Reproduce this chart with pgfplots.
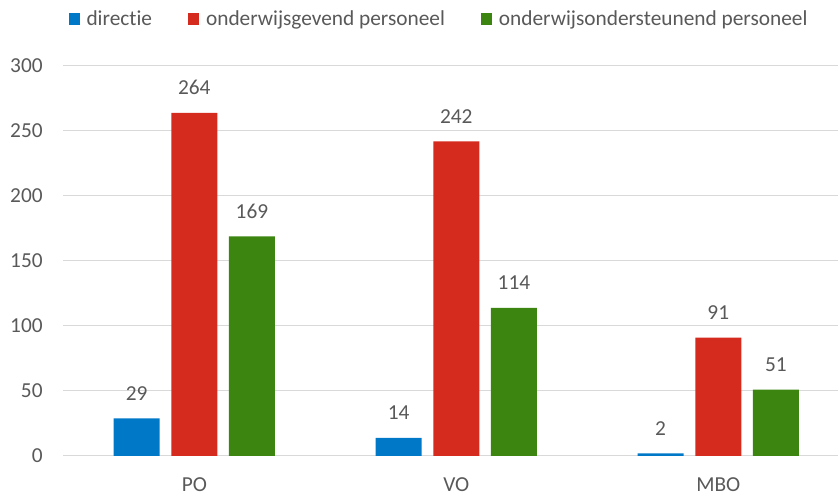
\documentclass[border=0pt]{standalone}
\usepackage{pgfplots}
\pgfplotsset{compat=1.18}
\usepackage{fontspec}
\setmainfont{Carlito}[Ligatures=NoCommon]
\definecolor{cblue}{HTML}{0078C8}
\definecolor{cred}{HTML}{D52B1E}
\definecolor{cgreen}{HTML}{3B8510}
\definecolor{ctext}{HTML}{595959}
\definecolor{cgrid}{HTML}{D9D9D9}
\begin{document}
\fontsize{16pt}{19pt}\selectfont
\begin{tikzpicture}
\begin{axis}[
  scale only axis, width=581pt, height=292.5pt,
  ybar, bar width=0.1756,
  xmin=-0.5, xmax=2.457, ymin=0, ymax=300,
  ytick={0,50,...,300}, xtick={0,1,2}, xticklabels={PO,VO,MBO},
  ymajorgrids, grid style={cgrid, line width=0.75pt},
  axis x line*=bottom, axis y line*=left,
  y axis line style={draw=none},
  x axis line style={cgrid, line width=0.75pt, -},
  major tick length=0pt,
  tick label style={color=ctext, font=\fontsize{16pt}{19pt}\selectfont},
  /pgf/number format/assume math mode=true,
  xticklabel style={yshift=-11pt},
  yticklabel style={xshift=-10pt},
  nodes near coords,
  nodes near coords style={color=ctext, font=\fontsize{16pt}{19pt}\selectfont, anchor=south, yshift=8pt},
  legend style={at={(axis description cs:0.5,1)}, anchor=center, xshift=-9pt, yshift=35pt,
    draw=none, legend columns=-1, font=\fontsize{16pt}{19pt}\selectfont, text=ctext,
    nodes={inner sep=1pt},
    /tikz/every odd column/.append style={column sep=4pt},
    /tikz/every even column/.append style={column sep=26pt}},
  legend image code/.code={\fill[#1] (0pt,-4pt) rectangle (8.5pt,4.5pt);},
]
\addplot[fill=cblue, draw=none, bar shift=-0.22] coordinates {(0,29) (1,14) (2,2)};
\addplot[fill=cred, draw=none, bar shift=0] coordinates {(0,264) (1,242) (2,91)};
\addplot[fill=cgreen, draw=none, bar shift=0.22] coordinates {(0,169) (1,114) (2,51)};
\legend{directie, onderwijsgevend personeel, onderwijsondersteunend personeel}
\end{axis}
\pgfresetboundingbox
\path[use as bounding box] ([xshift=-47.5pt,yshift=-31.5pt]current axis.south west) rectangle ([yshift=49.5pt]current axis.north east);
\end{tikzpicture}
\end{document}
